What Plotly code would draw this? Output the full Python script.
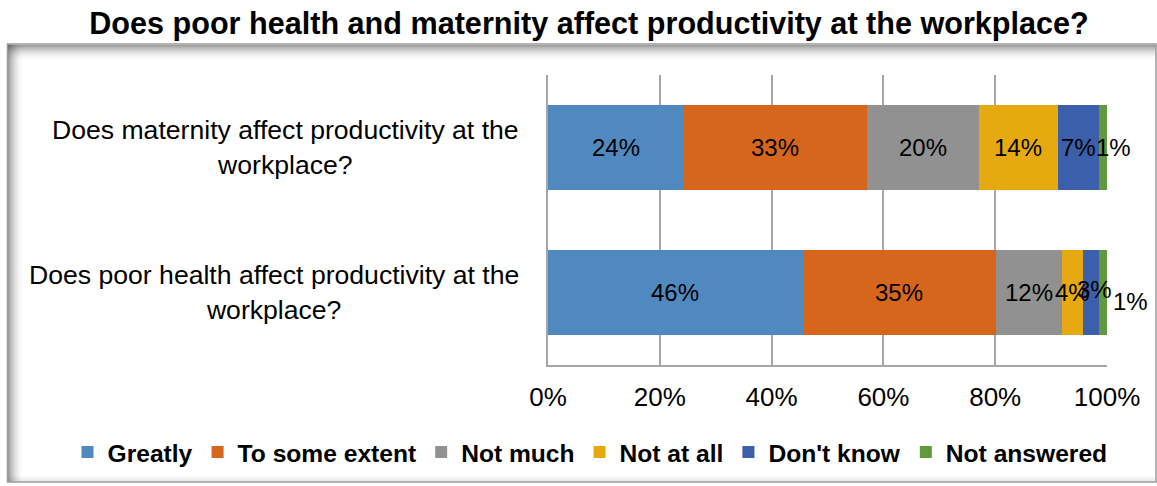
import plotly.graph_objects as go

W, H = 1157, 486

categories = ["Does poor health affect productivity at the<br>workplace?",
              "Does maternity affect productivity at the<br>workplace?"]
series_names = ["Greatly", "To some extent", "Not much", "Not at all", "Don't know", "Not answered"]
greatly = [45.6, 24.2]
some_extent = [34.5, 32.9]
not_much = [11.8, 20.0]
not_at_all = [3.8, 14.1]
dont_know = [2.9, 7.3]
not_answered = [1.4, 1.5]
series_values = [greatly, some_extent, not_much, not_at_all, dont_know, not_answered]
label_text = [["46%", "24%"], ["35%", "33%"], ["12%", "20%"], ["4%", "14%"], ["3%", "7%"], ["1%", "1%"]]
tick_vals = [0, 20, 40, 60, 80, 100]
tick_text = ["0%", "20%", "40%", "60%", "80%", "100%"]

colors = ["#4f89bf", "#d5661c", "#919191", "#e6aa10", "#3b5fab", "#62993c"]
# per-label pixel nudges (xshift, yshift) for crowded small segments
nudges = {(4, 0): (3, 3), (5, 0): (27, -9), (5, 1): (11, 0)}

FONT = "Liberation Sans, Arial, sans-serif"

fig = go.Figure()
for name, vals, col in zip(series_names, series_values, colors):
    fig.add_trace(go.Bar(
        y=[0, 1], x=vals, name=name, orientation="h",
        marker=dict(color=col, line=dict(width=0)),
        width=0.59, hoverinfo="skip"))

annotations = []
cum = [0.0, 0.0]
for si, vals in enumerate(series_values):
    for ci, v in enumerate(vals):
        mid = cum[ci] + v / 2
        xs, ys = nudges.get((si, ci), (0, 0))
        annotations.append(dict(x=mid, y=ci, xref="x", yref="y", text=label_text[si][ci],
                                showarrow=False, xshift=xs, yshift=ys,
                                font=dict(family=FONT, size=24, color="black")))
        cum[ci] += v

for ci, cat in enumerate(categories):
    annotations.append(dict(x=521 / W, y=ci, xref="paper", yref="y", text=cat,
                            xanchor="right", align="center", showarrow=False,
                            font=dict(family=FONT, size=26.6, color="black")))

shapes = []
# frame with soft inner shadow
x0, x1 = 7.5 / W, 1156 / W
yb, yt = 1 - 482 / H, 1 - 44 / H
for k in range(16):
    a = 0.38 * (1 - k / 16) ** 2
    shapes.append(dict(type="rect", xref="paper", yref="paper",
                       x0=x0, x1=x1, y0=1 - (45 + k + 1) / H, y1=1 - (45 + k) / H,
                       fillcolor=f"rgba(0,0,0,{a:.3f})", line=dict(width=0), layer="below"))
    shapes.append(dict(type="rect", xref="paper", yref="paper",
                       x0=(8 + k) / W, x1=(9 + k) / W, y0=yb, y1=yt,
                       fillcolor=f"rgba(0,0,0,{a:.3f})", line=dict(width=0), layer="below"))
for k in range(5):
    a = 0.08 * (1 - k / 5)
    shapes.append(dict(type="rect", xref="paper", yref="paper",
                       x0=x0, x1=x1, y0=1 - (481 - k) / H, y1=1 - (480 - k) / H,
                       fillcolor=f"rgba(0,0,0,{a:.3f})", line=dict(width=0), layer="below"))
shapes.append(dict(type="rect", xref="paper", yref="paper", x0=x0, x1=x1, y0=yb, y1=yt,
                   line=dict(color="#9a9a9a", width=1.5), fillcolor="rgba(0,0,0,0)", layer="below"))

fig.update_layout(
    width=W, height=H,
    margin=dict(l=0, r=0, t=0, b=0, autoexpand=False),
    barmode="stack",
    paper_bgcolor="white", plot_bgcolor="rgba(0,0,0,0)",
    title=dict(text="<b>Does poor health and maternity affect productivity at the workplace?</b>",
               x=589 / W, xanchor="center", y=1 - 23 / H, yanchor="middle",
               font=dict(family=FONT, size=30.6, color="black")),
    xaxis=dict(domain=[548 / W, 1107 / W], range=[0, 100], tickvals=tick_vals, ticktext=tick_text,
               showgrid=True, gridcolor="#a6a6a6", gridwidth=1.5,
               showline=True, linecolor="#a6a6a6", linewidth=1.5,
               ticks="", ticklabelstandoff=8, zeroline=False, automargin=False,
               tickfont=dict(family=FONT, size=26, color="black")),
    yaxis=dict(domain=[1 - 365 / H, 1 - 75 / H], range=[-0.5, 1.5], showticklabels=False,
               showgrid=False, zeroline=False, showline=True, linecolor="#a6a6a6", linewidth=1.5,
               ticks="", automargin=False),
    legend=dict(orientation="h", x=590 / W, xanchor="center", y=1 - 452 / H, yanchor="middle",
                font=dict(family=FONT, size=24.6, color="black", weight="bold"),
                bgcolor="rgba(0,0,0,0)", itemclick=False, traceorder="normal"),
    annotations=annotations,
    shapes=shapes,
    showlegend=True,
)

fig.write_html("out.html")
